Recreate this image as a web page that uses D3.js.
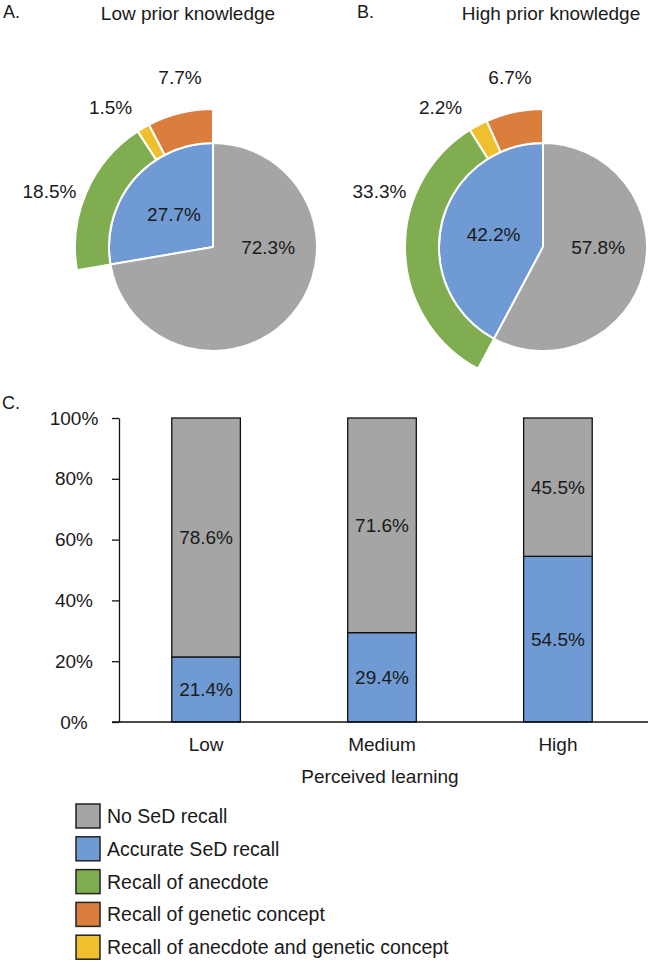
<!DOCTYPE html>
<html>
<head>
<meta charset="utf-8">
<script src="https://cdn.jsdelivr.net/npm/d3@7"></script>
<style>
  html, body { margin: 0; padding: 0; background: #fff; }
  svg { display: block; }
  text { font-family: "Liberation Sans", Arial, sans-serif; fill: #1a1a1a; }
</style>
</head>
<body>
<script>
// ---------- data ----------
const pieTitles = ["Low prior knowledge", "High prior knowledge"];
const pieLetters = ["A.", "B."];
const innerCategories = ["Accurate SeD recall", "No SeD recall"];
const innerLow = [27.7, 72.3];
const innerHigh = [42.2, 57.8];
const outerCategories = ["Recall of genetic concept", "Recall of anecdote and genetic concept", "Recall of anecdote"];
const outerLow = [7.7, 1.5, 18.5];
const outerHigh = [6.7, 2.2, 33.3];

const barCategories = ["Low", "Medium", "High"];
const barAccurate = [21.4, 29.4, 54.5];
const barNone = [78.6, 71.6, 45.5];
const yTicks = [0, 20, 40, 60, 80, 100];
const xAxisTitle = "Perceived learning";

const legendItems = ["No SeD recall", "Accurate SeD recall", "Recall of anecdote", "Recall of genetic concept", "Recall of anecdote and genetic concept"];

// ---------- styles ----------
const colors = {
  "No SeD recall": "#A5A5A5",
  "Accurate SeD recall": "#6F9AD3",
  "Recall of anecdote": "#80AD50",
  "Recall of genetic concept": "#D97E3C",
  "Recall of anecdote and genetic concept": "#F0BF2D"
};
const FONT = 19;

const W = 650, H = 962;
const svg = d3.select("body").append("svg").attr("width", W).attr("height", H);

// ---------- pies ----------
const r = 104, R = 138;
const pieCenters = [[213, 247], [543, 247]];
const outerLabelSlots = [-11, -36.3, -71].map(d => d * Math.PI / 180);
const outerLabelRadius = 173;
const fmt = v => v.toFixed(1) + "%";

function drawPie(idx, inner, outer) {
  const [cx, cy] = pieCenters[idx];
  const g = svg.append("g").attr("transform", `translate(${cx},${cy})`);

  const innerData = inner.map((v, i) => ({ key: innerCategories[i], value: v }));
  const outerData = outer.map((v, i) => ({ key: outerCategories[i], value: v }));

  const pieIn = d3.pie().sort(null).value(d => d.value)
    .startAngle(0).endAngle(-2 * Math.PI);
  const arcsIn = pieIn(innerData);
  const arcIn = d3.arc().innerRadius(0).outerRadius(r);

  const blueEnd = arcsIn[0].endAngle;
  const pieOut = d3.pie().sort(null).value(d => d.value)
    .startAngle(0).endAngle(blueEnd);
  const arcsOut = pieOut(outerData);
  const arcOut = d3.arc().innerRadius(r).outerRadius(R);

  g.selectAll("path.in").data(arcsIn).join("path").attr("class", "in")
    .attr("d", arcIn).attr("fill", d => colors[d.data.key])
    .attr("stroke", "#fff").attr("stroke-width", 2).attr("stroke-linejoin", "round");

  g.selectAll("path.out").data(arcsOut).join("path").attr("class", "out")
    .attr("d", arcOut).attr("fill", d => colors[d.data.key])
    .attr("stroke", "#fff").attr("stroke-width", 2).attr("stroke-linejoin", "round");

  // inner labels
  arcsIn.forEach((a, i) => {
    let ang, rad;
    if (i === 0) { ang = (a.startAngle + a.endAngle) / 2; rad = 0.49 * r; }
    else { ang = Math.PI / 2; rad = 0.53 * r; }
    g.append("text")
      .attr("x", rad * Math.sin(ang)).attr("y", -rad * Math.cos(ang))
      .attr("dy", "0.36em").attr("text-anchor", "middle")
      .attr("font-size", FONT).text(fmt(a.data.value));
  });

  // outer labels
  arcsOut.forEach((a, i) => {
    const ang = outerLabelSlots[i];
    g.append("text")
      .attr("x", outerLabelRadius * Math.sin(ang)).attr("y", -outerLabelRadius * Math.cos(ang))
      .attr("dy", "0.36em").attr("text-anchor", "middle")
      .attr("font-size", FONT).text(fmt(a.data.value));
  });
}

drawPie(0, innerLow, outerLow);
drawPie(1, innerHigh, outerHigh);

// titles
svg.append("text").attr("x", 3).attr("y", 18).attr("font-size", 18).text(pieLetters[0]);
svg.append("text").attr("x", 357).attr("y", 18).attr("font-size", 18).text(pieLetters[1]);
svg.append("text").attr("x", 188).attr("y", 20).attr("text-anchor", "middle").attr("font-size", FONT).text(pieTitles[0]);
svg.append("text").attr("x", 551).attr("y", 20).attr("text-anchor", "middle").attr("font-size", FONT).text(pieTitles[1]);

// ---------- bar chart ----------
svg.append("text").attr("x", 2).attr("y", 409).attr("font-size", 18).text("C.");

const plotLeft = 119, plotRight = 648;
const y = d3.scaleLinear().domain([0, 100]).range([722, 418]);
const x = d3.scaleBand().domain(barCategories).range([plotLeft, 645])
  .paddingInner(0.61).paddingOuter(0.3);

const bars = svg.append("g");
barCategories.forEach((c, i) => {
  const segs = [
    { key: "Accurate SeD recall", y0: 0, y1: barAccurate[i], v: barAccurate[i] },
    { key: "No SeD recall", y0: barAccurate[i], y1: barAccurate[i] + barNone[i], v: barNone[i] }
  ];
  segs.forEach(s => {
    bars.append("rect")
      .attr("x", x(c)).attr("width", x.bandwidth())
      .attr("y", y(Math.min(s.y1, 100))).attr("height", y(s.y0) - y(Math.min(s.y1, 100)))
      .attr("fill", colors[s.key]).attr("stroke", "#111").attr("stroke-width", 1.3);
    bars.append("text")
      .attr("x", x(c) + x.bandwidth() / 2)
      .attr("y", (y(s.y0) + y(Math.min(s.y1, 100))) / 2)
      .attr("dy", "0.36em").attr("text-anchor", "middle")
      .attr("font-size", FONT).text(fmt(s.v));
  });
});

// y axis
const yAxis = svg.append("g").attr("transform", `translate(${plotLeft},0)`)
  .call(d3.axisLeft(y).tickValues(yTicks).tickSize(7).tickSizeOuter(0)
    .tickFormat(d => d + "%"));
yAxis.select(".domain").attr("stroke", "#111").attr("stroke-width", 1.3);
yAxis.selectAll(".tick line").attr("stroke", "#111").attr("stroke-width", 1.3);
yAxis.selectAll(".tick text")
  .attr("x", -45).attr("text-anchor", "middle")
  .attr("font-size", FONT).attr("font-family", "Liberation Sans, Arial, sans-serif")
  .attr("fill", "#1a1a1a");

// x axis
const xAxis = svg.append("g").attr("transform", `translate(0,${y(0)})`)
  .call(d3.axisBottom(x).tickSize(0).tickPadding(16));
xAxis.select(".domain").attr("d", `M${plotLeft - 7},0H${plotRight}`)
  .attr("stroke", "#111").attr("stroke-width", 1.3);
xAxis.selectAll(".tick text")
  .attr("font-size", FONT).attr("font-family", "Liberation Sans, Arial, sans-serif")
  .attr("fill", "#1a1a1a");

svg.append("text").attr("x", 380).attr("y", 783).attr("text-anchor", "middle")
  .attr("font-size", FONT).text(xAxisTitle);

// ---------- legend ----------
const lg = svg.append("g");
legendItems.forEach((k, i) => {
  const yy = 804 + i * 32.8;
  lg.append("rect").attr("x", 76).attr("y", yy).attr("width", 24).attr("height", 24)
    .attr("fill", colors[k]).attr("stroke", "#222").attr("stroke-width", 1.5);
  lg.append("text").attr("x", 107).attr("y", yy + 12).attr("dy", "0.36em")
    .attr("font-size", 19.5).text(k);
});
</script>
</body>
</html>
